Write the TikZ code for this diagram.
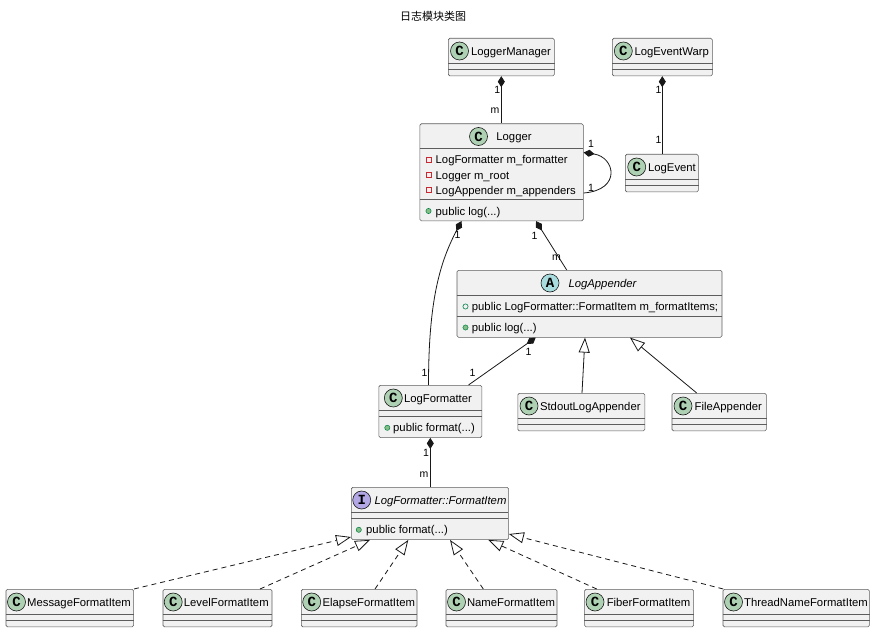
\documentclass[tikz,border=0pt]{standalone}
\usepackage{fontspec}
\setmainfont{Liberation Sans}
\newfontfamily\cjkfont{Noto Sans CJK SC}
\newfontfamily\spotfont{Liberation Mono}
\usetikzlibrary{arrows.meta,calc}
\definecolor{boxbg}{HTML}{F1F1F1}
\definecolor{ink}{HTML}{181818}
\definecolor{spotC}{HTML}{ADD1B2}
\definecolor{spotA}{HTML}{A9DCDF}
\definecolor{spotI}{HTML}{B4A7E5}
\definecolor{privred}{HTML}{C82930}
\definecolor{pubgreen}{HTML}{038048}
\definecolor{pubfill}{HTML}{84BE84}
\tikzset{
 classbox/.style={draw=ink!70, line width=0.6pt, fill=boxbg, rounded corners=1.5pt, inner sep=0, anchor=north west},
 sepline/.style={draw=ink!70, line width=0.6pt},
 spotc/.style={circle, draw=ink, line width=0.6pt, minimum size=18pt, inner sep=0, font=\spotfont\bfseries\fontsize{14}{14}\selectfont},
 cname/.style={anchor=base, inner sep=0, font=\fontsize{11.3}{13}\selectfont},
 iname/.style={anchor=base, inner sep=0, font=\itshape\fontsize{11.3}{13}\selectfont},
 member/.style={anchor=base west, inner sep=0, font=\fontsize{11.3}{13}\selectfont},
 elabel/.style={inner sep=0, font=\fontsize{10.5}{11}\selectfont},
 conn/.style={draw=ink, line width=0.8pt},
 comp/.style={conn, {Diamond[length=11pt,width=7pt,fill=ink]}-},
 inher/.style={conn, -{Triangle[open,length=15pt,width=11pt,fill=white]}},
 real/.style={inher, dash pattern=on 5pt off 4pt},
 privmark/.style={draw=privred, line width=0.6pt},
 pubmeth/.style={draw=pubgreen, fill=pubfill, line width=0.5pt},
 pubfield/.style={draw=pubgreen, line width=0.6pt},
}
% simple class: name, L, T, W, spot cx, name cx, text
\newcommand\simpleclass[7]{%
 \node[classbox, minimum width=#4pt, minimum height=37.6pt] (#1) at (#2,#3) {};
 \draw[sepline] ($(#1.north west)+(0,25)$) -- ($(#1.north east)+(0,25)$)
   ($(#1.north west)+(0,31.3)$) -- ($(#1.north east)+(0,31.3)$);
 \node[spotc, fill=spotC] (#1-s) at (#5,#3+13) {C};
 \node[cname] (#1-n) at (#6,#3+17.5) {#7};
}
\newcommand\privsq[2]{\draw[privmark] (#1-2.5,#2-2.5) rectangle (#1+2.5,#2+2.5);}
\newcommand\pubdot[2]{\draw[pubmeth] (#1,#2) circle (2.6pt);}
\newcommand\pubring[2]{\draw[pubfield] (#1,#2) circle (2.6pt);}
\begin{document}
\begin{tikzpicture}[x=1pt,y=-1pt]
\useasboundingbox (0,0) rectangle (874,631);
\node[font=\cjkfont\fontsize{11}{12}\selectfont, inner sep=0] (title) at (433,16) {日志模块类图};

% top row
\simpleclass{lm}{448}{38}{106}{459.5}{511}{LoggerManager}
\simpleclass{lew}{612}{38}{100}{623.3}{671.7}{LogEventWarp}
\simpleclass{logevent}{625}{154}{73}{636.7}{672}{LogEvent}

% Logger
\node[classbox, minimum width=163.5pt, minimum height=97pt] (logger) at (419.5,123.5) {};
\draw[sepline] (419.5,148.5) -- (583,148.5) (419.5,199.5) -- (583,199.5);
\node[spotc, fill=spotC] (logger-s) at (478.5,136.5) {C};
\node[cname] (logger-n) at (514,141) {Logger};
\privsq{428.5}{160}\node[member] (logger-a1) at (435.5,164) {LogFormatter m\_formatter};
\privsq{428.5}{175}\node[member] (logger-a2) at (435.5,179) {Logger m\_root};
\privsq{428.5}{190}\node[member] (logger-a3) at (435.5,194) {LogAppender m\_appenders};
\pubdot{428.5}{211}\node[member] (logger-m1) at (435.5,215) {public log(...)};

% LogAppender
\node[classbox, minimum width=265pt, minimum height=67pt] (app) at (456.7,270) {};
\draw[sepline] (456.7,295) -- (721.7,295) (456.7,316) -- (721.7,316);
\node[spotc, fill=spotA] (app-s) at (550,283) {A};
\node[iname] (app-n) at (602.5,287.5) {LogAppender};
\pubring{465.5}{306.5}\node[member] (app-a1) at (471.7,310.5) {public LogFormatter::FormatItem m\_formatItems;};
\pubdot{465.5}{327.5}\node[member] (app-m1) at (471.7,331.5) {public log(...)};

% LogFormatter
\node[classbox, minimum width=103pt, minimum height=52.3pt] (fmt) at (378.5,385) {};
\draw[sepline] (378.5,410) -- (481.5,410) (378.5,416.3) -- (481.5,416.3);
\node[spotc, fill=spotC] (fmt-s) at (393.3,398) {C};
\node[cname] (fmt-n) at (438,402.5) {LogFormatter};
\pubdot{387.3}{427.8}\node[member] (fmt-m1) at (393,431.8) {public format(...)};

% appenders
\simpleclass{stdout}{517.5}{393}{127}{529}{590.3}{StdoutLogAppender}
\simpleclass{file}{671.7}{393}{94.3}{683}{728.3}{FileAppender}

% FormatItem
\node[classbox, minimum width=157.3pt, minimum height=52.3pt] (item) at (351,487) {};
\draw[sepline] (351,512) -- (508.3,512) (351,518.3) -- (508.3,518.3);
\node[spotc, fill=spotI] (item-s) at (361.7,500) {I};
\node[iname] (item-n) at (440.5,504.5) {LogFormatter::FormatItem};
\pubdot{358.8}{529.8}\node[member] (item-m1) at (366,533.8) {public format(...)};

% bottom row
\simpleclass{msg}{5.7}{589}{127.6}{16.5}{79}{MessageFormatItem}
\simpleclass{lvl}{162.7}{589}{109}{173.2}{226.3}{LevelFormatItem}
\simpleclass{ela}{301}{589}{115.7}{311.7}{368.8}{ElapseFormatItem}
\simpleclass{nam}{445.7}{589}{111}{456.5}{511}{NameFormatItem}
\simpleclass{fib}{584.3}{589}{109}{595}{648.5}{FiberFormatItem}
\simpleclass{thr}{722.7}{589}{146.3}{733.5}{806}{ThreadNameFormatItem}

% compositions
\draw[comp] (lm.south) -- (lm.south |- logger.north);
\node[elabel] (la1) at (497.3,89.5) {1};
\node[elabel] (la2) at (495,111) {m};
\draw[comp] (lew.south) -- (lew.south |- logevent.north);
\node[elabel] (lb1) at (658.5,90) {1};
\node[elabel] (lb2) at (658.5,140) {1};
\draw[comp] ([yshift=-29pt]logger.north east) .. controls (615,157) and (622,190) .. ([yshift=-69.5pt]logger.north east);
\node[elabel] (lc1) at (591,143.5) {1};
\node[elabel] (lc2) at (591,188) {1};
\draw[comp] ([xshift=42pt]logger.south west) .. controls (440,262) and (428.5,300) .. ([xshift=50pt]fmt.north west);
\node[elabel] (ld1) at (457.5,235) {1};
\node[elabel] (ld2) at (424.5,373) {1};
\draw[comp] ([xshift=116.5pt]logger.south west) -- ([xshift=110pt]app.north west);
\node[elabel] (le1) at (534.5,235.5) {1};
\node[elabel] (le2) at (556.5,257.5) {m};
\draw[comp] ([xshift=79pt]app.south west) -- ([xshift=90pt]fmt.north west);
\node[elabel] (lf1) at (528.5,351.5) {1};
\node[elabel] (lf2) at (472.5,373) {1};
\draw[comp] (fmt.south) -- (fmt.south |- item.north);
\node[elabel] (li1) at (426,453) {1};
\node[elabel] (li2) at (424,474.5) {m};

% inheritance
\draw[inher] ([xshift=64.5pt]stdout.north west) -- ([xshift=128.3pt]app.south west);
\draw[inher] ([xshift=25pt]file.north west) -- ([xshift=173.3pt]app.south west);

% realizations
\draw[real] (msg.north east) -- ([yshift=-50pt]item.north west);
\draw[real] ([xshift=97.3pt]lvl.north west) -- ([xshift=19pt]item.south west);
\draw[real] ([xshift=74pt]ela.north west) -- ([xshift=57.3pt]item.south west);
\draw[real] ([xshift=37.6pt]nam.north west) -- ([xshift=99pt]item.south west);
\draw[real] ([xshift=12.4pt]fib.north west) -- ([xshift=137.3pt]item.south west);
\draw[real] ([xshift=0.6pt]thr.north west) -- ([yshift=-47pt]item.north east);
\end{tikzpicture}
\end{document}
